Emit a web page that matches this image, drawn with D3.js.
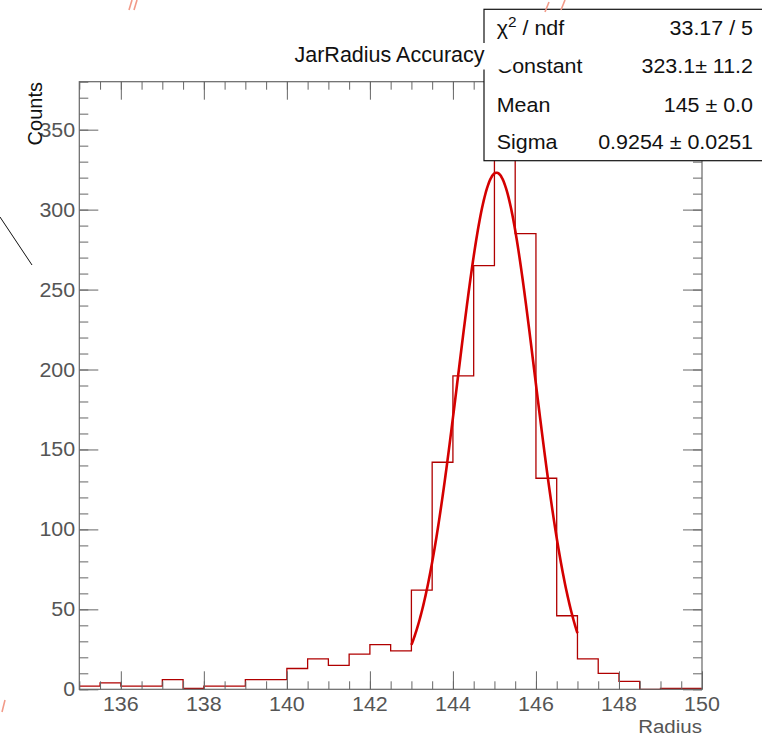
<!DOCTYPE html>
<html>
<head>
<meta charset="utf-8">
<script src="https://cdn.jsdelivr.net/npm/d3@7"></script>
<style>
  html, body { margin: 0; padding: 0; background: #fff; }
  svg { display: block; }
  text { font-family: "Liberation Sans", Arial, Helvetica, sans-serif; }
</style>
</head>
<body>
<svg id="chart" width="762" height="736"></svg>
<script>
// ---------------- data ----------------
const binLow = 135;
const binWidth = 0.5;
const counts = [2, 4, 2, 2, 6, 0.5, 2, 2, 6, 6,
                13, 19, 15, 22, 28, 24, 62, 142, 196, 265,
                345, 285, 132, 46, 19, 10, 5, 0, 0.5, 0.5];
const xDomain = [135, 150];
const yDomain = [0, 380];
const xMajorTicks = [136, 138, 140, 142, 144, 146, 148, 150];
const yMajorTicks = [0, 50, 100, 150, 200, 250, 300, 350];
const fitRange = [143, 147];
const fitConstant = 323.1;
const fitMean = 145.05;
const fitSigma = 0.9254;
const statLabels = ["χ2 / ndf", "Constant", "Mean", "Sigma"];
const statValues = ["33.17 / 5", "323.1\u00B1 11.2", "145 \u00B1 0.0", "0.9254 \u00B1 0.0251"];
const titleText = "JarRadius Accuracy";
const xTitle = "Radius";
const yTitle = "Counts";

// ---------------- layout ----------------
const L = 79.3, R = 702, T = 81.7, B = 689.3;
const svg = d3.select("#chart");
svg.append("rect").attr("width", 762).attr("height", 736).attr("fill", "#fff");

const x = d3.scaleLinear().domain(xDomain).range([L, R]);
const y = d3.scaleLinear().domain(yDomain).range([B, T]);

const axisColor = "#666";
const labelColor = "#555";

function txt(g, px, py, s, o) {
  o = o || {};
  return g.append("text")
    .attr("transform", `translate(${px},${py}) scale(${o.sx || 1},1)` + (o.rot ? ` rotate(${o.rot})` : ""))
    .attr("text-anchor", o.anchor || "start")
    .attr("font-size", (o.size || 19.5) + "px")
    .attr("fill", o.fill || "#111")
    .text(s);
}

// ---------------- histogram ----------------
const pts = counts.map((c, i) => [binLow + i * binWidth, c]);
pts.push([binLow + counts.length * binWidth, counts[counts.length - 1]]);
svg.append("path")
  .attr("d", d3.line().x(d => x(d[0])).y(d => y(d[1])).curve(d3.curveStepAfter)(pts))
  .attr("fill", "none").attr("stroke", "#b00000").attr("stroke-width", 1.3);

// ---------------- fit ----------------
const fitPts = d3.range(fitRange[0], fitRange[1] + 1e-9, 0.02)
  .map(v => [v, fitConstant * Math.exp(-0.5 * Math.pow((v - fitMean) / fitSigma, 2))]);
svg.append("path")
  .attr("d", d3.line().x(d => x(d[0])).y(d => y(d[1])).curve(d3.curveLinear)(fitPts))
  .attr("fill", "none").attr("stroke", "#d40000").attr("stroke-width", 2.6);

// ---------------- axes ----------------
const ax = svg.append("g");
const minorX = d3.range(135, 150.001, 0.5);
const minorY = d3.range(0, 380.001, 10);
function tickLayer(axisFn, pos, vals, size) {
  ax.append("g").attr("transform", pos)
    .call(axisFn.tickValues(vals).tickSize(size).tickFormat(""))
    .call(g => g.select(".domain").remove());
}
tickLayer(d3.axisBottom(x), `translate(0,${B})`, minorX, -8);
tickLayer(d3.axisBottom(x), `translate(0,${B})`, xMajorTicks, -18);
tickLayer(d3.axisTop(x), `translate(0,${T})`, minorX, -8);
tickLayer(d3.axisTop(x), `translate(0,${T})`, xMajorTicks, -18);
tickLayer(d3.axisLeft(y), `translate(${L},0)`, minorY, -9);
tickLayer(d3.axisLeft(y), `translate(${L},0)`, yMajorTicks, -19);
tickLayer(d3.axisRight(y), `translate(${R},0)`, minorY, -9);
tickLayer(d3.axisRight(y), `translate(${R},0)`, yMajorTicks, -19);
ax.selectAll("line").attr("stroke", axisColor).attr("stroke-width", 1);
// frame
svg.append("rect").attr("x", L).attr("y", T).attr("width", R - L).attr("height", B - T)
  .attr("fill", "none").attr("stroke", axisColor).attr("stroke-width", 1.2);

// tick labels
xMajorTicks.forEach(v => txt(svg, x(v), 711, String(v), {anchor: "middle", size: 19.5, sx: 1.1, fill: labelColor}));
yMajorTicks.forEach(v => txt(svg, 75.2, y(v) + 7, String(v), {anchor: "end", size: 19.5, sx: 1.1, fill: labelColor}));

// axis titles
txt(svg, 702, 733, xTitle, {anchor: "end", size: 19, sx: 1.08, fill: labelColor});
txt(svg, 42, 82, yTitle, {anchor: "end", size: 20, rot: -90, fill: "#111"});

// ---------------- stats box ----------------
const st = svg.append("g");
st.append("rect").attr("x", 484).attr("y", 9.3).attr("width", 300).attr("height", 151.4)
  .attr("fill", "#fff").attr("stroke", "#111").attr("stroke-width", 1.2);
const rowBase = [34.5, 73, 111.5, 148.5];
statLabels.forEach((s, i) => {
  if (i === 0) {
    const t = txt(st, 496.7, rowBase[i], "", {size: 19.5, sx: 1.1});
    t.append("tspan").text("χ");
    t.append("tspan").attr("font-size", "14px").attr("dy", -8).text("2");
    t.append("tspan").attr("dy", 8).text(" / ndf");
  } else {
    txt(st, 496.7, rowBase[i], s, {size: 19.5, sx: 1.1});
  }
});
statValues.forEach((s, i) => txt(st, 753, rowBase[i], s, {anchor: "end", size: 19.5, sx: 1.1}));

// ---------------- title pave ----------------
svg.append("rect").attr("x", 269).attr("y", 43).attr("width", 242).attr("height", 26.5).attr("fill", "#fff");
txt(svg, 389.5, 62, titleText, {anchor: "middle", size: 21.5, fill: "#111"});

// ---------------- stray marks at image edges ----------------
svg.append("line").attr("x1", 0).attr("y1", 217).attr("x2", 32).attr("y2", 265)
  .attr("stroke", "#111").attr("stroke-width", 1);
const marks = [[129, 10, 132, 0], [134, 10, 137, 0], [545, 12, 549, 2], [561, 10, 565, 0], [2, 712, 5, 700]];
marks.forEach(m => svg.append("line").attr("x1", m[0]).attr("y1", m[1]).attr("x2", m[2]).attr("y2", m[3])
  .attr("stroke", "#f29a88").attr("stroke-width", 1.6));
</script>
</body>
</html>
